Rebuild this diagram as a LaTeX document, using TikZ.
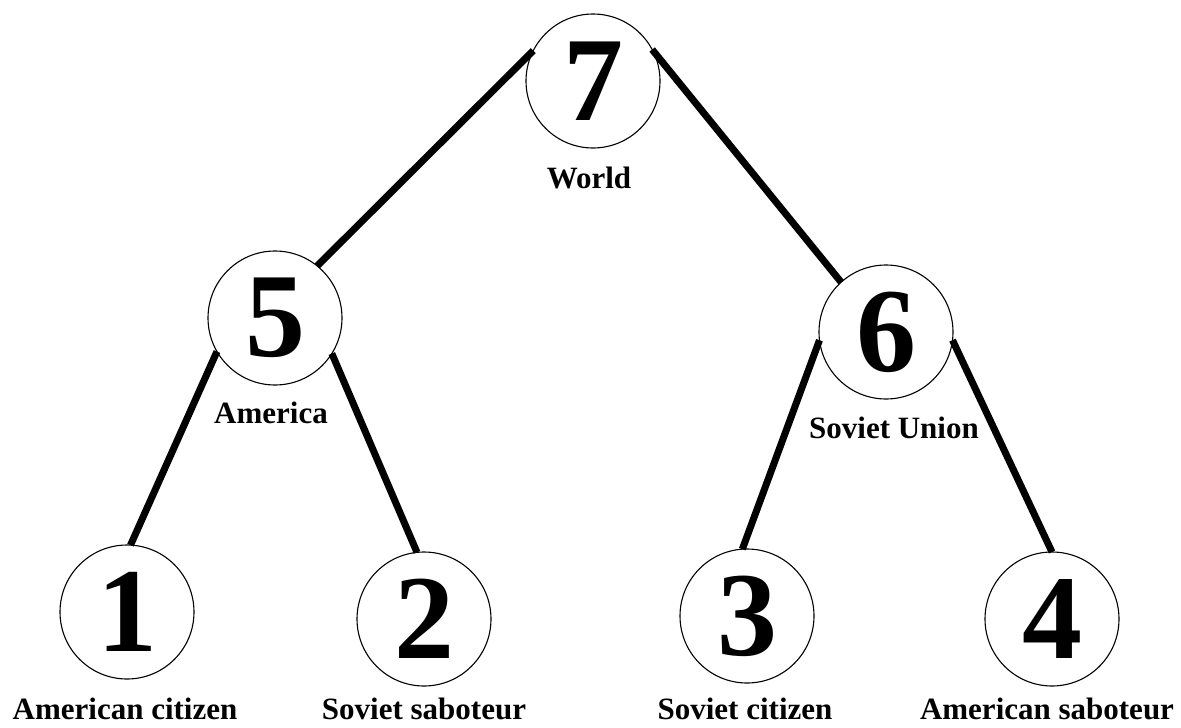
\documentclass[tikz,border=0pt]{standalone}
\usepackage{fontspec}
\setmainfont{Liberation Serif}
\usepackage{tikz}

\tikzset{
  vertex/.style={draw, circle, line width=1.1pt, minimum size=134pt, inner sep=0pt, outer sep=0pt,
    font=\fontsize{120}{120}\selectfont\bfseries},
  tag/.style={anchor=base, font=\fontsize{31}{31}\selectfont\bfseries},
  edge/.style={line width=7pt}
}

\begin{document}
\begin{tikzpicture}[x=1pt, y=-1pt]
  \useasboundingbox (0,0) rectangle (1181,728);
  \foreach \idx/\x/\y in {7/593/81, 5/275/318, 6/886/332, 1/127/612, 2/424/619, 3/747/616, 4/1052/619} {
    \node[vertex] (v\idx) at (\x,\y) {\idx};
  }
  % branches
  \draw[edge] (v7.153) -- (v5.51);
  \draw[edge] (v7.28) -- (v6.132);
  \draw[edge] (v5.210) -- (v1.87);
  \draw[edge] (v5.328) -- (v2.96);
  \draw[edge] (v6.187) -- (v3.94);
  \draw[edge] (v6.353) -- (v4.90);
  % names
  \node[tag] (world) at (589,188) {World};
  \node[tag] (america) at (271,423) {America};
  \node[tag] (soviet) at (894,438) {Soviet Union};
  \node[tag] (amcit) at (125,719) {American citizen};
  \node[tag] (sovsab) at (424,719) {Soviet saboteur};
  \node[tag] (sovcit) at (745,719) {Soviet citizen};
  \node[tag] (amsab) at (1047,719) {American saboteur};
\end{tikzpicture}
\end{document}
